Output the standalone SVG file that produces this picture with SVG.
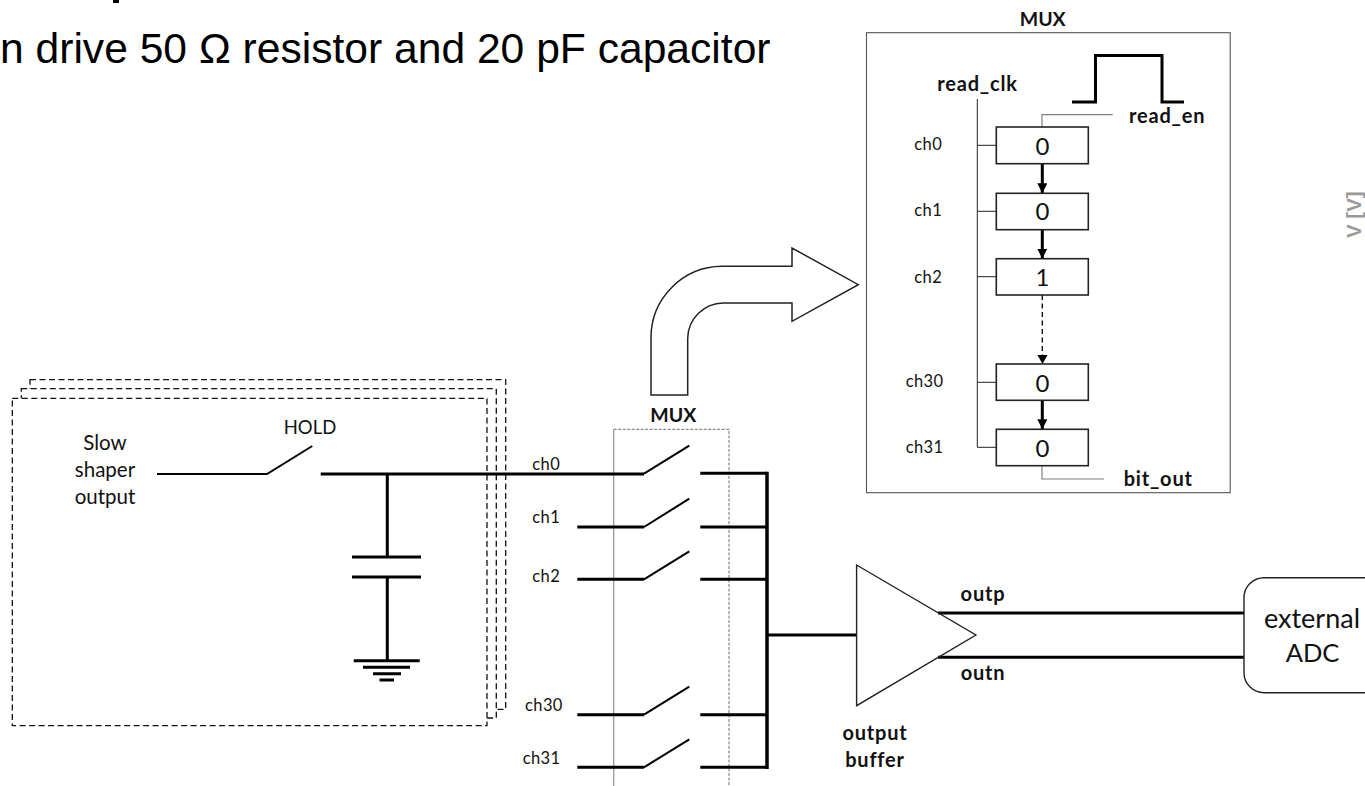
<svg xmlns="http://www.w3.org/2000/svg" width="1365" height="786" viewBox="0 0 1365 786">
<style>
text{font-family:"Lato","Noto Sans",sans-serif;fill:#111}
.c{text-anchor:middle}
.s{font-size:16.5px;letter-spacing:.4px}
.bl{font-size:20px;font-weight:700;letter-spacing:.8px}
.mx{font-size:19.5px;font-weight:700}
.m{font-size:20.5px}
.d{font-size:24px;text-anchor:middle}
.l{font-size:27px;text-anchor:middle}
.title{font-family:"Liberation Sans",Arial,sans-serif;font-size:42.6px;fill:#000}
.dash{fill:#fff;stroke:#111;stroke-width:1.3;stroke-dasharray:6 3.5}
.n{fill:none;stroke:#000;stroke-linecap:butt}
.t2{stroke-width:2}
.t3{stroke-width:3}
.g{fill:none;stroke:#808080;stroke-width:1.2}
.reg{fill:#fff;stroke:#222;stroke-width:1.6}
</style>
<defs>
<marker id="ah" markerUnits="userSpaceOnUse" markerWidth="10" markerHeight="11" refX="10" refY="5" orient="auto"><path d="M0 0L10 5L0 10Z" fill="#000"/></marker>
</defs>
<rect width="1365" height="786" fill="#fff"/>
<rect id="title-fragment" x="113" y="0" width="6" height="3" fill="#000"/>
<text class="title" x="0" y="62.5">n drive 50 Ω resistor and 20 pF capacitor</text>
<text transform="translate(1360.5 238) rotate(-90)" font-size="20.5" style="font-family:'Liberation Sans',sans-serif;font-weight:700;fill:#9a9a9a">V [V]</text>

<g id="channel-stack">
<rect class="dash" x="30" y="379.7" width="475.7" height="329.6"/>
<rect class="dash" x="21.3" y="388.7" width="475" height="329.3"/>
<rect class="dash" x="12.3" y="398.3" width="474.7" height="327.4"/>
</g>
<g id="mux-lower">
<path d="M613.7 786V429.3" fill="none" stroke="#999" stroke-width="1.3"/>
<path d="M613.7 429.3H729V786" fill="none" stroke="#888" stroke-width="1.2" stroke-dasharray="3 1.5"/>
</g>

<g id="connectors">
<path class="n t2" d="M157 474H267L312.3 446"/>
<path class="n t3" d="M320.7 474H644"/>
<path class="n t2" d="M644 473.7L689.3 445.7"/>
<path class="n t3" d="M387.3 474V557M387.3 577V660.7"/>
<path class="n t3" d="M352 557H421M352 577H421"/>
<path class="n t3" d="M353.7 660.7H419.7M363 667.3H410M373 673.7H401M379.5 680H394"/>
<path class="n t3" d="M577.3 527H644M577.3 579.3H644M577.3 714.7H644M577.3 767.3H644"/>
<path class="n t2" d="M644 527L689.3 498.7M644 579.3L689.3 551.3M644 714.7L689.3 686.7M644 767.3L689.3 739.3"/>
<path class="n t3" d="M700.3 473.3H767M700.3 527H767M700.3 579.3H767M700.3 714.7H767M700.3 767.3H767"/>
<path class="n" stroke-width="3.5" d="M767 471.8V769"/>
<path class="n t3" d="M767 635H857"/>
<path class="n t3" d="M938 613H1244M938 657.3H1244"/>
</g>

<g id="arrow-to-detail">
<path d="M651 395V338A71.5 71.5 0 0 1 722 266.3H792V248L858.3 284.7L792 321.3V303H723.3A36 36 0 0 0 687.7 338V395Z" fill="#fff" stroke="#222" stroke-width="1.5"/>
</g>
<g id="output-buffer">
<path d="M856.6 565L975.9 635L856.6 705.7Z" fill="none" stroke="#222" stroke-width="1.4"/>
</g>
<g id="external-adc">
<rect x="1244" y="577.7" width="160" height="115" rx="20" fill="#fff" stroke="#222" stroke-width="1.4"/>
<text class="l" x="1312" y="627.7">external</text>
<text class="l" x="1312.5" y="662" style="font-size:25.5px">ADC</text>
</g>

<g id="mux-detail">
<rect x="866.5" y="32.7" width="363.7" height="460" fill="#fff" stroke="#555" stroke-width="1.1"/>
<path class="n t3" d="M1072 102H1095.5V55.5H1162V102H1184"/>
<path fill="none" stroke="#222" stroke-width="1" d="M977.3 99V447.3H996.3M977.3 145.3H996.3M977.3 211.3H996.3M977.3 276.7H996.3M977.3 382.3H996.3"/>
<path class="g" d="M1042 127V114.7H1112.7M1042 466V479H1104"/>
<path class="n t3" marker-end="url(#ah)" d="M1042.3 164V193.3"/>
<path class="n t3" marker-end="url(#ah)" d="M1042.3 229.7V258.7"/>
<path class="n" stroke-width="1.3" stroke-dasharray="5 3.5" d="M1042.3 295V356"/>
<path d="M1037.5 355H1047.5L1042.5 364Z" fill="#000"/>
<path class="n t3" marker-end="url(#ah)" d="M1042.3 400.3V429.3"/>
<rect class="reg" x="996.3" y="127" width="92" height="36.7"/>
<rect class="reg" x="996.3" y="193.3" width="92" height="36.4"/>
<rect class="reg" x="996.3" y="258.7" width="92" height="36.3"/>
<rect class="reg" x="996.3" y="364" width="92" height="36.3"/>
<rect class="reg" x="996.3" y="429.3" width="92" height="36.4"/>
<text class="d" x="1042.5" y="155">0</text>
<text class="d" x="1042.5" y="220">0</text>
<text class="d" x="1042.5" y="285.7">1</text>
<text class="d" x="1042.5" y="391.7">0</text>
<text class="d" x="1042.5" y="456.7">0</text>
<text class="s" x="914.3" y="149.5">ch0</text>
<text class="s" x="914.3" y="215.5">ch1</text>
<text class="s" x="914.3" y="282.5">ch2</text>
<text class="s" x="905.7" y="387">ch30</text>
<text class="s" x="905.7" y="453">ch31</text>
<text class="bl" x="937.3" y="91">read_clk</text>
<text class="bl" x="1129" y="122.8">read_en</text>
<text class="bl" x="1123.7" y="486">bit_out</text>
</g>

<g id="labels">
<text class="mx c" x="1042.7" y="25.5">MUX</text>
<text class="mx c" x="673.3" y="421.7">MUX</text>
<text class="m c" x="105" y="450">Slow</text>
<text class="m c" x="105" y="477">shaper</text>
<text class="m c" x="105" y="503.5">output</text>
<text class="m c" x="310" y="434" style="font-size:18.5px">HOLD</text>
<text class="s" x="532.3" y="469.8">ch0</text>
<text class="s" x="532.3" y="523.2">ch1</text>
<text class="s" x="532.3" y="581.5">ch2</text>
<text class="s" x="525" y="711">ch30</text>
<text class="s" x="522.7" y="763.7">ch31</text>
<text class="bl c" x="983" y="601.3">outp</text>
<text class="bl c" x="983" y="679.5">outn</text>
<text class="bl c" x="875" y="740">output</text>
<text class="bl c" x="875" y="767">buffer</text>
</g>
</svg>
